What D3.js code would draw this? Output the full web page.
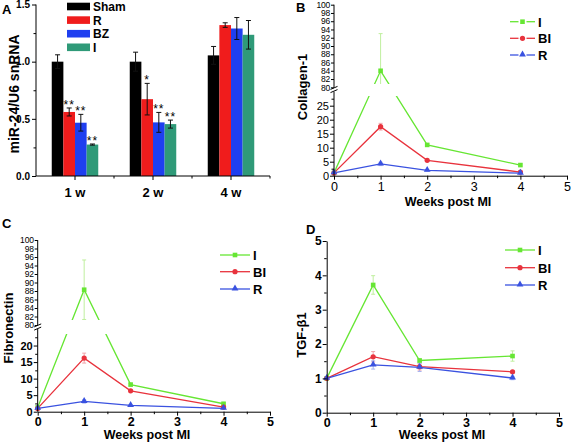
<!DOCTYPE html>
<html>
<head>
<meta charset="utf-8">
<script src="https://cdn.jsdelivr.net/npm/d3@7"></script>
<style>
  html, body { margin: 0; padding: 0; background: #fff; }
  svg { display: block; font-family: "Liberation Sans", Arial, sans-serif; }
</style>
</head>
<body>
<svg id="chart" width="571" height="446"></svg>
<script>
// ---------------- DATA ----------------
// Panel A (bar chart)
const groupsA = ["1 w", "2 w", "4 w"];
const seriesA = ["Sham", "R", "BZ", "I"];
const shamA = [1.0, 1.0, 1.055];
const shamErrA = [0.06, 0.083, 0.078];
const rA = [0.56, 0.672, 1.32];
const rErrA = [0.035, 0.138, 0.02];
const bzA = [0.466, 0.469, 1.29];
const bzErrA = [0.073, 0.087, 0.096];
const iA = [0.275, 0.454, 1.235];
const iErrA = [0.005, 0.035, 0.125];
const starsR = ["**", "*", ""];
const starsBZ = ["**", "**", ""];
const starsI = ["**", "**", ""];
const yTicksA = [0.0, 0.5, 1.0, 1.5];

// Shared x values for line panels
const weeks = [0, 1, 2, 4];
const lineSeriesNames = ["I", "BI", "R"];

// Panel B (Collagen-1)
const colI = [1, 84, 11, 3.8];
const colIErr = [0, 9, 0.5, 0.4];
const colBI = [1, 17.5, 5.5, 1.3];
const colBIErr = [0, 1.2, 0.4, 0.2];
const colR = [1, 4.2, 1.9, 0.9];
const colRErr = [0, 0.6, 0.3, 0.2];

// Panel C (Fibronectin)
const fibI = [1.3, 88.3, 8.2, 2.4];
const fibIErr = [0, 7, 0.4, 0.3];
const fibBI = [1, 16.2, 6.3, 1.4];
const fibBIErr = [0, 1.5, 0.3, 0.2];
const fibR = [1, 3.1, 1.9, 1.0];
const fibRErr = [0, 0.5, 0.3, 0.1];

// Panel D (TGF-β1)
const tgfI = [1, 3.72, 1.52, 1.65];
const tgfIErr = [0, 0.27, 0.05, 0.15];
const tgfBI = [1, 1.63, 1.34, 1.19];
const tgfBIErr = [0, 0.15, 0.1, 0.03];
const tgfR = [1, 1.39, 1.32, 1.01];
const tgfRErr = [0, 0.12, 0.12, 0.05];

const xTicksLine = [0, 1, 2, 3, 4, 5];
const lowerTicksB = [0, 5, 10, 15, 20, 25];
const lowerTicksC = [0, 5, 10, 15, 20];
const upperTicks = [80, 82, 84, 86, 88, 90, 92, 94, 96, 98, 100];
const yTicksD = [0, 1, 2, 3, 4, 5];

// ---------------- STYLE ----------------
const FONT = '"Liberation Sans", Arial, sans-serif';
const barColors = ["#000000", "#f01c1c", "#1f3ff0", "#2f9a78"];
const lineColors = { I: "#66e633", BI: "#e8333d", R: "#3a52e0" };
const errColors = { I: "#bfef9e", BI: "#f2a4aa", R: "#a8b4f0" };

const svg = d3.select("#chart");

function txt(g, x, y, s, opts = {}) {
  return g.append("text").attr("x", x).attr("y", y).text(s)
    .attr("font-size", opts.size || 12)
    .attr("font-weight", opts.bold ? "bold" : "normal")
    .attr("text-anchor", opts.anchor || "start")
    .attr("fill", "#000");
}

// ---------------- PANEL A ----------------
(function () {
  const g = svg.append("g");
  const x0 = d3.scaleBand().domain(groupsA).range([36, 270]).paddingInner(0).paddingOuter(0);
  const x1 = d3.scaleBand().domain(seriesA).range([0, 46.5]);
  const y = d3.scaleLinear().domain([0, 1.5]).range([176, 4.5]);
  const off = (x0.bandwidth() - 46.5) / 2;

  const vals = [shamA, rA, bzA, iA];
  const errs = [shamErrA, rErrA, bzErrA, iErrA];
  const stars = [["", "", ""], starsR, starsBZ, starsI];

  seriesA.forEach((s, si) => {
    groupsA.forEach((gr, gi) => {
      const bx = x0(gr) + off + x1(s);
      const v = vals[si][gi], e = errs[si][gi];
      g.append("rect").attr("x", bx).attr("y", y(v))
        .attr("width", x1.bandwidth()).attr("height", y(0) - y(v))
        .attr("fill", barColors[si]);
      const cx = bx + x1.bandwidth() / 2;
      g.append("line").attr("x1", cx).attr("x2", cx).attr("y1", y(v - e)).attr("y2", y(v + e))
        .attr("stroke", "#111").attr("stroke-width", 1);
      [v - e, v + e].forEach(t => g.append("line").attr("x1", cx - 2.5).attr("x2", cx + 2.5)
        .attr("y1", y(t)).attr("y2", y(t)).attr("stroke", "#111").attr("stroke-width", 1));
      if (stars[si][gi]) {
        txt(g, cx, y(v + e) + 1, stars[si][gi], { size: 12, anchor: "middle" })
          .attr("letter-spacing", "1");
      }
    });
  });

  // axes
  const yAxis = d3.axisLeft(y).tickValues(yTicksA).tickSize(4).tickFormat(d3.format(".1f"));
  const ya = g.append("g").attr("transform", "translate(36,0)").call(yAxis);
  ya.selectAll("text").attr("font-size", 10).attr("font-weight", "bold").attr("font-family", FONT).attr("x", -6);
  ya.select(".domain").attr("d", `M0,${y(1.5)}V${y(0)}`);
  const minorA = g.append("g").attr("transform", "translate(36,0)")
    .call(d3.axisLeft(y).tickValues([0.25, 0.75, 1.25]).tickSize(2.5).tickFormat(""));
  minorA.select(".domain").remove();

  const xa = g.append("g").attr("transform", "translate(0,176)")
    .call(d3.axisBottom(x0).tickSize(4).tickSizeOuter(0));
  xa.selectAll("text").attr("font-size", 13).attr("font-weight", "bold").attr("font-family", FONT).attr("dy", "1.1em");
  xa.select(".domain").attr("d", "M36,0H270");
  // minor ticks at group boundaries
  [1, 2, 3].forEach(i => {
    const xx = 36 + i * x0.step();
    g.append("line").attr("x1", xx).attr("x2", xx).attr("y1", 176).attr("y2", 178.5).attr("stroke", "#000");
  });

  // y label
  g.append("text").attr("transform", "translate(19,94) rotate(-90)").attr("text-anchor", "middle")
    .attr("font-size", 14).attr("font-weight", "bold").text("miR-24/U6 snRNA");

  // legend
  seriesA.forEach((s, i) => {
    const yy = 6.5 + i * 13.6;
    g.append("rect").attr("x", 67).attr("y", yy - 3.8).attr("width", 23).attr("height", 7.6).attr("fill", barColors[i]);
    txt(g, 93, yy + 4.5, s, { size: 12, bold: true });
  });

  txt(g, 2, 14, "A", { size: 13, bold: true });
})();

// ---------------- LINE PANEL HELPER ----------------
function marker(g, type, cx, cy, color) {
  if (type === "I") {
    g.append("rect").attr("x", cx - 2.3).attr("y", cy - 2.3).attr("width", 4.6).attr("height", 4.6).attr("fill", color);
  } else if (type === "BI") {
    g.append("circle").attr("cx", cx).attr("cy", cy).attr("r", 2.6).attr("fill", color);
  } else {
    const sym = d3.symbol().type(d3.symbolTriangle).size(20);
    g.append("path").attr("d", sym()).attr("transform", `translate(${cx},${cy - 0.5})`).attr("fill", color);
  }
}

function linePanel(cfg) {
  const g = svg.append("g");
  const x = d3.scaleLinear().domain([0, 5]).range([cfg.axX, cfg.axRight]);
  let yfn, yTop, yBottom;
  if (cfg.broken) {
    const yl = d3.scaleLinear().domain(cfg.lowerDomain).range(cfg.lowerRange);
    const yu = d3.scaleLinear().domain(cfg.upperDomain).range(cfg.upperRange);
    yfn = v => (v >= cfg.upperDomain[0] ? yu(v) : yl(v));
    cfg.yl = yl; cfg.yu = yu;
    yTop = cfg.upperRange[1]; yBottom = cfg.lowerRange[0];
  } else {
    const yy = d3.scaleLinear().domain(cfg.domain).range(cfg.range);
    yfn = v => yy(v);
    cfg.ys = yy;
    yTop = cfg.range[1]; yBottom = cfg.range[0];
  }

  // clip (gap at break)
  const clipId = "clip" + cfg.id;
  const cp = svg.append("defs").append("clipPath").attr("id", clipId);
  if (cfg.broken) {
    cp.append("rect").attr("x", cfg.axX).attr("y", yTop - 10).attr("width", cfg.axRight - cfg.axX).attr("height", cfg.gap[0] - yTop + 10);
    cp.append("rect").attr("x", cfg.axX).attr("y", cfg.gap[1]).attr("width", cfg.axRight - cfg.axX).attr("height", yBottom - cfg.gap[1] + 10);
  } else {
    cp.append("rect").attr("x", cfg.axX).attr("y", yTop - 10).attr("width", cfg.axRight - cfg.axX).attr("height", yBottom - yTop + 20);
  }
  const clipped = g.append("g").attr("clip-path", `url(#${clipId})`);

  // error bars
  cfg.series.forEach(s => {
    s.vals.forEach((v, i) => {
      const e = s.errs[i];
      if (!e) return;
      const cx = x(weeks[i]);
      let lo = v - e, hi = v + e;
      if (cfg.broken && v >= cfg.upperDomain[0] && lo < cfg.upperDomain[0]) lo = cfg.upperDomain[0];
      clipped.append("line").attr("x1", cx).attr("x2", cx).attr("y1", yfn(lo)).attr("y2", yfn(hi))
        .attr("stroke", errColors[s.name]).attr("stroke-width", 1);
      [lo, hi].forEach(t => clipped.append("line").attr("x1", cx - 2).attr("x2", cx + 2)
        .attr("y1", yfn(t)).attr("y2", yfn(t)).attr("stroke", errColors[s.name]).attr("stroke-width", 1));
    });
  });

  // lines
  const line = d3.line().x(d => x(d[0])).y(d => yfn(d[1]));
  cfg.series.forEach(s => {
    clipped.append("path").attr("d", line(weeks.map((w, i) => [w, s.vals[i]])))
      .attr("fill", "none").attr("stroke", lineColors[s.name]).attr("stroke-width", 1.3);
  });
  // markers
  cfg.series.forEach(s => {
    s.vals.forEach((v, i) => marker(g, s.name, x(weeks[i]), yfn(v), lineColors[s.name]));
  });

  // x axis
  const xa = g.append("g").attr("transform", `translate(0,${yBottom})`)
    .call(d3.axisBottom(x).tickValues(xTicksLine).tickSize(4).tickSizeOuter(0).tickFormat(d3.format("d")));
  xa.selectAll("text").attr("font-size", cfg.xTickSize).attr("font-weight", cfg.xBold ? "bold" : "normal")
    .attr("font-family", FONT).attr("y", cfg.xLabelDy);
  const xm = g.append("g").attr("transform", `translate(0,${yBottom})`)
    .call(d3.axisBottom(x).tickValues([0.5, 1.5, 2.5, 3.5, 4.5]).tickSize(2.5).tickFormat(""));
  xm.select(".domain").remove();

  // y axis
  if (cfg.broken) {
    const ya1 = g.append("g").attr("transform", `translate(${cfg.axX},0)`)
      .call(d3.axisLeft(cfg.yl).tickValues(cfg.lowerTicks).tickSize(4).tickSizeOuter(0));
    ya1.selectAll("text").attr("font-size", 11).attr("font-weight", cfg.yBold ? "bold" : "normal").attr("font-family", FONT).attr("x", -5);
    ya1.select(".domain").attr("d", `M0,${cfg.lowerRange[0]}V${cfg.lowerRange[1]}`);
    const minors = cfg.lowerTicks.map(t => t + 2.5).filter(t => t < cfg.lowerDomain[1]);
    const ym1 = g.append("g").attr("transform", `translate(${cfg.axX},0)`)
      .call(d3.axisLeft(cfg.yl).tickValues(minors).tickSize(2.5).tickFormat(""));
    ym1.select(".domain").remove();

    const ya2 = g.append("g").attr("transform", `translate(${cfg.axX},0)`)
      .call(d3.axisLeft(cfg.yu).tickValues(upperTicks).tickSize(3).tickSizeOuter(0));
    ya2.selectAll("text").attr("font-size", 8.5).attr("font-family", FONT).attr("x", -4)
      .attr("letter-spacing", "-0.2");
    ya2.select(".domain").attr("d", `M0,${cfg.upperRange[0]}V${cfg.upperRange[1]}`);

    // break marks
    const yc = (cfg.lowerRange[1] + cfg.upperRange[0]) / 2;
    [-1.6, 1.6].forEach(d => g.append("line").attr("x1", cfg.axX - 3.5).attr("x2", cfg.axX + 3.5)
      .attr("y1", yc + d + 1.5).attr("y2", yc + d - 1.5).attr("stroke", "#000").attr("stroke-width", 1));
  } else {
    const ya = g.append("g").attr("transform", `translate(${cfg.axX},0)`)
      .call(d3.axisLeft(cfg.ys).tickValues(cfg.yTicks).tickSize(4).tickSizeOuter(0).tickFormat(d3.format("d")));
    ya.selectAll("text").attr("font-size", 12).attr("font-weight", "bold").attr("font-family", FONT).attr("x", -5);
    const ym = g.append("g").attr("transform", `translate(${cfg.axX},0)`)
      .call(d3.axisLeft(cfg.ys).tickValues([0.5, 1.5, 2.5, 3.5, 4.5]).tickSize(2.5).tickFormat(""));
    ym.select(".domain").remove();
  }

  // axis titles
  g.append("text").attr("x", cfg.xTitle[0]).attr("y", cfg.xTitle[1]).attr("text-anchor", "middle")
    .attr("font-size", cfg.xTitleSize).attr("font-weight", "bold").text("Weeks post MI");
  g.append("text").attr("transform", `translate(${cfg.yTitle[0]},${cfg.yTitle[1]}) rotate(-90)`)
    .attr("text-anchor", "middle").attr("font-size", 13).attr("font-weight", "bold").text(cfg.yLabel);

  // legend
  cfg.series.forEach((s, i) => {
    const ly = cfg.legend.y[i];
    const x1 = cfg.legend.x1, x2 = cfg.legend.x2, mx = (x1 + x2) / 2;
    if (cfg.legend.gapped) {
      g.append("line").attr("x1", x1).attr("x2", mx - 4).attr("y1", ly).attr("y2", ly).attr("stroke", lineColors[s.name]).attr("stroke-width", 1.3);
      g.append("line").attr("x1", mx + 4).attr("x2", x2).attr("y1", ly).attr("y2", ly).attr("stroke", lineColors[s.name]).attr("stroke-width", 1.3);
    } else {
      g.append("line").attr("x1", x1).attr("x2", x2).attr("y1", ly).attr("y2", ly).attr("stroke", lineColors[s.name]).attr("stroke-width", 1.3);
    }
    marker(g, s.name, mx, ly, lineColors[s.name]);
    txt(g, x2 + 3, ly + 5, s.name, { size: 13, bold: true });
  });

  txt(g, cfg.tag[0], cfg.tag[1], cfg.tag[2], { size: 13, bold: true });
}

// ---------------- PANEL B ----------------
linePanel({
  id: "B", broken: true, axX: 334, axRight: 567,
  lowerDomain: [0, 30], lowerRange: [175.7, 91.7],
  upperDomain: [80, 100], upperRange: [87.3, 4.7],
  gap: [84, 96], lowerTicks: lowerTicksB, yBold: false, xBold: false, xLabelDy: 6.5,
  xTickSize: 12.5, xTitleSize: 12.5,
  series: [
    { name: "I", vals: colI, errs: colIErr },
    { name: "BI", vals: colBI, errs: colBIErr },
    { name: "R", vals: colR, errs: colRErr }
  ],
  xTitle: [448, 206], yTitle: [307, 87], yLabel: "Collagen-1",
  legend: { x1: 510, x2: 535, y: [21.7, 38.3, 55], gapped: true },
  tag: [296, 12, "B"]
});

// ---------------- PANEL C ----------------
linePanel({
  id: "C", broken: true, axX: 37.7, axRight: 270,
  lowerDomain: [0, 25], lowerRange: [411.7, 329],
  upperDomain: [80, 100], upperRange: [325, 240],
  gap: [320, 334], lowerTicks: lowerTicksC, yBold: true, xBold: true, xLabelDy: 5,
  xTickSize: 12.5, xTitleSize: 12.5,
  series: [
    { name: "I", vals: fibI, errs: fibIErr },
    { name: "BI", vals: fibBI, errs: fibBIErr },
    { name: "R", vals: fibR, errs: fibRErr }
  ],
  xTitle: [147, 439], yTitle: [13, 328], yLabel: "Fibronectin",
  legend: { x1: 220, x2: 250, y: [255, 271.7, 289], gapped: false },
  tag: [2, 228, "C"]
});

// ---------------- PANEL D ----------------
linePanel({
  id: "D", broken: false, axX: 326.7, axRight: 559,
  domain: [0, 5], range: [412.7, 241], yTicks: yTicksD, xBold: true, xLabelDy: 5,
  xTickSize: 12.5, xTitleSize: 12.5,
  series: [
    { name: "I", vals: tgfI, errs: tgfIErr },
    { name: "BI", vals: tgfBI, errs: tgfBIErr },
    { name: "R", vals: tgfR, errs: tgfRErr }
  ],
  xTitle: [442, 439], yTitle: [306, 335], yLabel: "TGF-β1",
  legend: { x1: 505, x2: 535, y: [250, 267.7, 285], gapped: false },
  tag: [306, 234, "D"]
});
</script>
</body>
</html>
